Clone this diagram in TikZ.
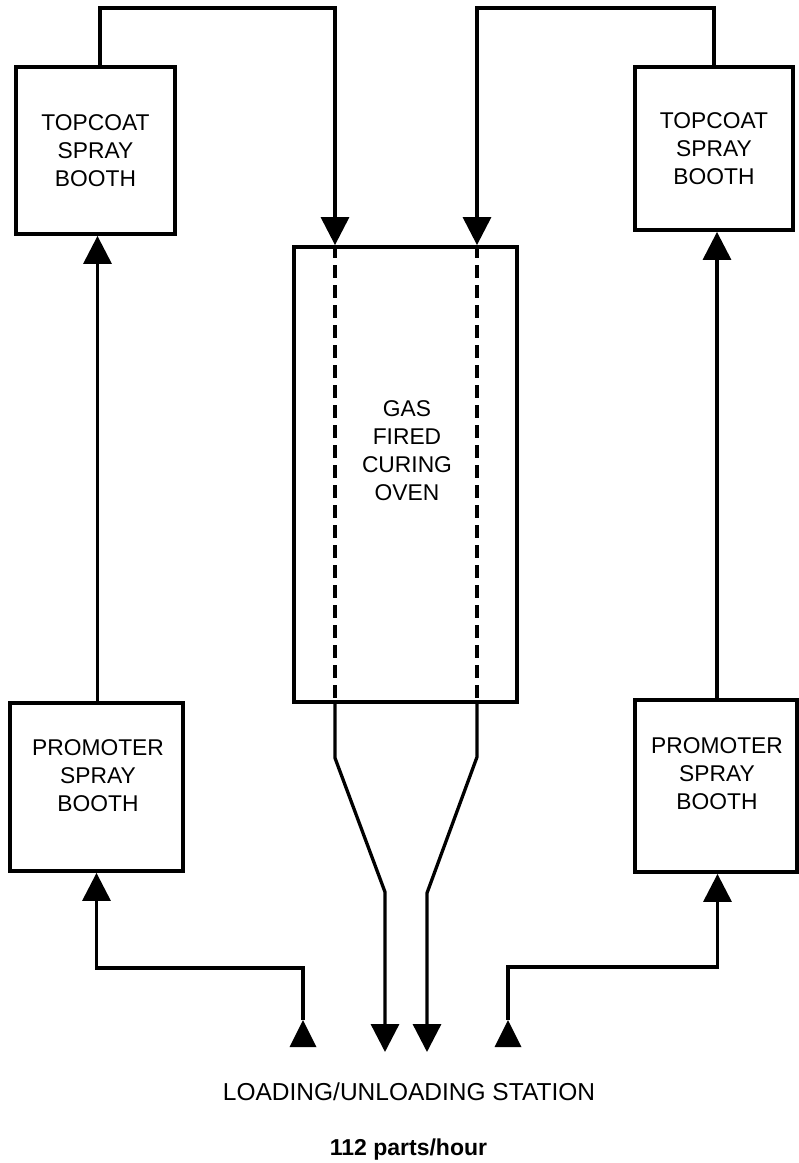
\documentclass[tikz,border=0pt]{standalone}
\usepackage{fontspec}
\setmainfont{Liberation Sans}
\usetikzlibrary{arrows.meta,calc}
\begin{document}
\begin{tikzpicture}[x=1pt,y=-1pt,
  lw/.style={line width=3.3pt},
  box/.style={draw,line width=3.8pt,inner sep=0pt,align=center,font=\fontsize{22.8pt}{28pt}\selectfont},
  txt/.style={inner sep=0pt,align=center,font=\fontsize{22.8pt}{28pt}\selectfont},
  flow/.style={lw,-{Triangle[length=28pt,width=28pt]}},
  dashline/.style={line width=3.4pt,dash pattern=on 12.5pt off 7.5pt}
]
\useasboundingbox (0,0) rectangle (799,1163);
% boxes
\node[box,minimum width=159pt,minimum height=167pt] (tl) at (95.5,150.5) {TOPCOAT\\SPRAY\\BOOTH};
\node[box,minimum width=158pt,minimum height=163pt] (tr) at (714,148.5) {TOPCOAT\\SPRAY\\BOOTH};
\node[box,minimum width=173pt,minimum height=168pt] (pl) at (96.5,787) {};
\node[box,minimum width=162pt,minimum height=172pt] (pr) at (716,786) {};
\node[txt] (plt) at (98,776) {PROMOTER\\SPRAY\\BOOTH};
\node[txt] (prt) at (717,774) {PROMOTER\\SPRAY\\BOOTH};
\node[box,minimum width=223pt,minimum height=455pt] (oven) at (405.5,474.5) {};
\node[txt] (ovt) at (407,451) {GAS\\FIRED\\CURING\\OVEN};
% station texts
\node[inner sep=0pt,anchor=base,font=\fontsize{24.5pt}{28pt}\selectfont] (st) at (409,1100) {LOADING/UNLOADING STATION};
\node[inner sep=0pt,anchor=base,font=\fontsize{23pt}{28pt}\selectfont\bfseries] (rate) at (408.5,1155) {112 parts/hour};
% coordinates
\coordinate (dl) at (335,8);
\coordinate (dr) at (477,8);
\coordinate (sl) at (303,1020);
\coordinate (sr) at (508,1020);
\coordinate (sly) at (0,968);
\coordinate (sry) at (0,967);
\coordinate (bl1) at (335,758);
\coordinate (bl2) at (385,892);
\coordinate (ul) at (385,1052);
\coordinate (br1) at (477,757);
\coordinate (br2) at (427,893);
\coordinate (ur) at (427,1052);
% top loops into oven
\draw[flow] ([xshift=4.5pt]tl.north) |- (dl) -- (dl |- oven.north);
\draw[flow] (tr.north) |- (dr) -- (dr |- oven.north);
% dashed paths through oven
\draw[dashline] (dl |- oven.north) -- (dl |- oven.south);
\draw[dashline] (dr |- oven.north) -- (dr |- oven.south);
% oven exits to station
\draw[flow] (dl |- oven.south) -- (bl1) -- (bl2) -- (ul);
\draw[flow] (dr |- oven.south) -- (br1) -- (br2) -- (ur);
% promoter to topcoat
\draw[flow] ([xshift=1pt]pl.north) -- ([xshift=1pt]pl.north |- tl.south);
\draw[flow] ([xshift=1pt]pr.north) -- ([xshift=1pt]pr.north |- tr.south);
% station to promoter
\draw[flow] (sl) -- (sl |- sly) -| (pl.south);
\draw[flow] (sr) -- (sr |- sry) -| ([xshift=1.5pt]pr.south);
\fill ($(sl)+(-13.5,27)$) -- ($(sl)+(13.5,27)$) -- (sl) -- cycle;
\fill ($(sr)+(-13.5,27)$) -- ($(sr)+(13.5,27)$) -- (sr) -- cycle;
\end{tikzpicture}
\end{document}
